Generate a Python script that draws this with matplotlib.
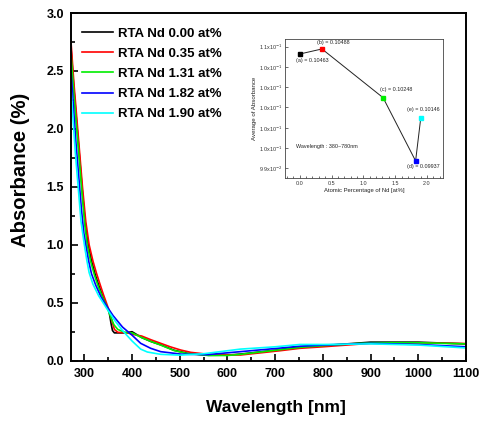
import matplotlib
matplotlib.use('Agg')
import matplotlib.pyplot as plt
from matplotlib.ticker import MultipleLocator, FixedLocator

plt.rcParams['font.family'] = ['Liberation Sans', 'DejaVu Sans']

# absorbance spectra (wavelength nm, absorbance %)
wl_000 = [272, 278, 284, 290, 296, 302, 308, 315, 323, 331, 340, 347, 352, 356, 359, 363, 385, 400, 420, 440, 460, 488, 516, 560, 600, 627, 700, 752, 800, 900, 1000, 1100]
ab_000 = [2.70, 2.35, 2.05, 1.75, 1.45, 1.18, 1.00, 0.86, 0.74, 0.64, 0.54, 0.47, 0.42, 0.32, 0.26, 0.24, 0.24, 0.25, 0.20, 0.165, 0.137, 0.09, 0.064, 0.047, 0.048, 0.057, 0.09, 0.12, 0.13, 0.16, 0.16, 0.145]

wl_035 = [272, 278, 283, 290, 296, 303, 310, 318, 325, 332, 340, 347, 353, 358, 363, 370, 390, 410, 420, 440, 460, 480, 502, 523, 560, 627, 710, 752, 800, 900, 1000, 1100]
ab_035 = [2.75, 2.40, 2.15, 1.80, 1.50, 1.20, 1.00, 0.86, 0.76, 0.67, 0.57, 0.49, 0.42, 0.34, 0.27, 0.245, 0.24, 0.22, 0.213, 0.18, 0.15, 0.12, 0.092, 0.072, 0.055, 0.049, 0.086, 0.107, 0.12, 0.15, 0.155, 0.148]

wl_131 = [272, 278, 284, 290, 296, 301, 306, 313, 321, 330, 340, 347, 355, 362, 370, 385, 400, 420, 440, 460, 488, 516, 560, 600, 627, 700, 752, 800, 900, 1000, 1100]
ab_131 = [2.65, 2.30, 2.00, 1.70, 1.40, 1.17, 1.00, 0.86, 0.74, 0.63, 0.53, 0.47, 0.38, 0.31, 0.27, 0.245, 0.24, 0.20, 0.165, 0.135, 0.088, 0.062, 0.045, 0.045, 0.055, 0.09, 0.115, 0.13, 0.155, 0.155, 0.145]

wl_182 = [272, 277, 282, 288, 294, 299, 303, 309, 315, 324, 335, 347, 360, 380, 400, 418, 439, 460, 502, 557, 627, 700, 752, 800, 900, 1000, 1100]
ab_182 = [2.50, 2.20, 1.90, 1.60, 1.30, 1.10, 1.00, 0.86, 0.75, 0.65, 0.55, 0.47, 0.39, 0.29, 0.22, 0.15, 0.107, 0.078, 0.057, 0.052, 0.078, 0.105, 0.125, 0.135, 0.15, 0.14, 0.12]

wl_190 = [272, 276, 281, 287, 293, 300, 305, 310, 318, 330, 347, 365, 380, 400, 418, 432, 460, 500, 550, 627, 700, 752, 800, 900, 1000, 1100]
ab_190 = [2.35, 2.10, 1.80, 1.50, 1.20, 1.00, 0.87, 0.76, 0.66, 0.56, 0.45, 0.34, 0.26, 0.17, 0.10, 0.075, 0.055, 0.048, 0.06, 0.10, 0.12, 0.14, 0.14, 0.145, 0.135, 0.11]

labels = ['RTA Nd 0.00 at%', 'RTA Nd 0.35 at%', 'RTA Nd 1.31 at%', 'RTA Nd 1.82 at%', 'RTA Nd 1.90 at%']
colors = ['black', 'red', '#00ee00', 'blue', 'cyan']

# inset data
nd = [0.0, 0.35, 1.31, 1.82, 1.90]
avg_abs = [0.10463, 0.10488, 0.10248, 0.09937, 0.10146]
tags = ['(a)', '(b)', '(c)', '(d)', '(e)']
inset_yticks = [0.099, 0.100, 0.101, 0.102, 0.103, 0.104, 0.105]
inset_ylabels = ['9.9x10$^{-2}$', '1.0x10$^{-1}$', '1.0x10$^{-1}$', '1.0x10$^{-1}$',
                 '1.0x10$^{-1}$', '1.0x10$^{-1}$', '1.1x10$^{-1}$']

fig = plt.figure(figsize=(4.87, 4.21), dpi=100)
ax = fig.add_axes([71/487, 1-360.7/421, (466-71)/487, (360.7-13)/421])

series = [(wl_000, ab_000), (wl_035, ab_035), (wl_131, ab_131), (wl_182, ab_182), (wl_190, ab_190)]
for (w, a), c, lab in zip(series, colors, labels):
    ax.plot(w, a, color=c, lw=1.2, label=lab)

ax.set_xlim(272, 1100)
ax.set_ylim(0, 3.0)
ax.xaxis.set_major_locator(MultipleLocator(100))
ax.xaxis.set_minor_locator(MultipleLocator(50))
ax.yaxis.set_major_locator(MultipleLocator(0.5))
ax.yaxis.set_minor_locator(MultipleLocator(0.25))
ax.tick_params(which='both', direction='in', width=1.2)
ax.tick_params(which='major', length=5, labelsize=9, pad=5)
ax.tick_params(which='minor', length=3)
for lb in ax.get_xticklabels() + ax.get_yticklabels():
    lb.set_fontweight('bold')
for s in ax.spines.values():
    s.set_linewidth(1.4)

ax.set_xlabel('Wavelength [nm]', fontsize=12.5, fontweight='bold')
ax.xaxis.set_label_coords(0.52, -0.112)
ax.set_ylabel('Absorbance (%)', fontsize=14.6, fontweight='bold')
ax.yaxis.set_label_coords(-0.104, 0.55)

leg = ax.legend(loc='upper left', bbox_to_anchor=(82/487, 1-27.5/421), bbox_transform=fig.transFigure,
                frameon=False, prop={'size': 9.5, 'weight': 'bold'}, handlelength=2.35,
                handletextpad=0.38, labelspacing=0.6, borderpad=0, borderaxespad=0)

# inset
ins = fig.add_axes([285/487, 1-178/421, (443-285)/487, (178-39)/421])
ins.plot(nd, avg_abs, color='#222222', lw=0.7, zorder=1)
for x, y, c in zip(nd, avg_abs, colors):
    ins.plot(x, y, marker='s', ms=3.4, color=c, mec=c, zorder=2)

offsets = [(-2.4, -4.8), (-3.4, 4.5), (-2.0, 6.0), (-6.5, -4.1), (-9.8, 6.5)]
for x, y, t, off in zip(nd, avg_abs, tags, offsets):
    ins.annotate(f'{t} = {y:.5f}', (x, y), xytext=off, textcoords='offset points',
                 fontsize=3.9, ha='left', va='center', color='#222222')
ins.text(-0.05, 0.10007, 'Wavelength : 380~780nm', fontsize=3.9, ha='left', va='center', color='#222222')

ins.set_xlim(-0.23, 2.25)
ins.set_ylim(0.09853, 0.10537)
ins.xaxis.set_major_locator(MultipleLocator(0.5))
ins.xaxis.set_minor_locator(MultipleLocator(0.1))
ins.yaxis.set_major_locator(FixedLocator(inset_yticks))
ins.set_yticklabels(inset_ylabels)
ins.tick_params(which='both', direction='in', width=0.5, labelsize=3.9, colors='#333333', pad=2)
ins.tick_params(which='major', length=2.5)
ins.tick_params(which='minor', length=1.3)
for s in ins.spines.values():
    s.set_linewidth(0.6)
    s.set_color('#444444')
ins.set_xlabel('Atomic Percentage of Nd [at%]', fontsize=4.2, labelpad=1.5, color='#222222')
ins.set_ylabel('Average of Absorbance', fontsize=4.4, labelpad=1.5, color='#222222')

fig.savefig('out.png', dpi=100)
